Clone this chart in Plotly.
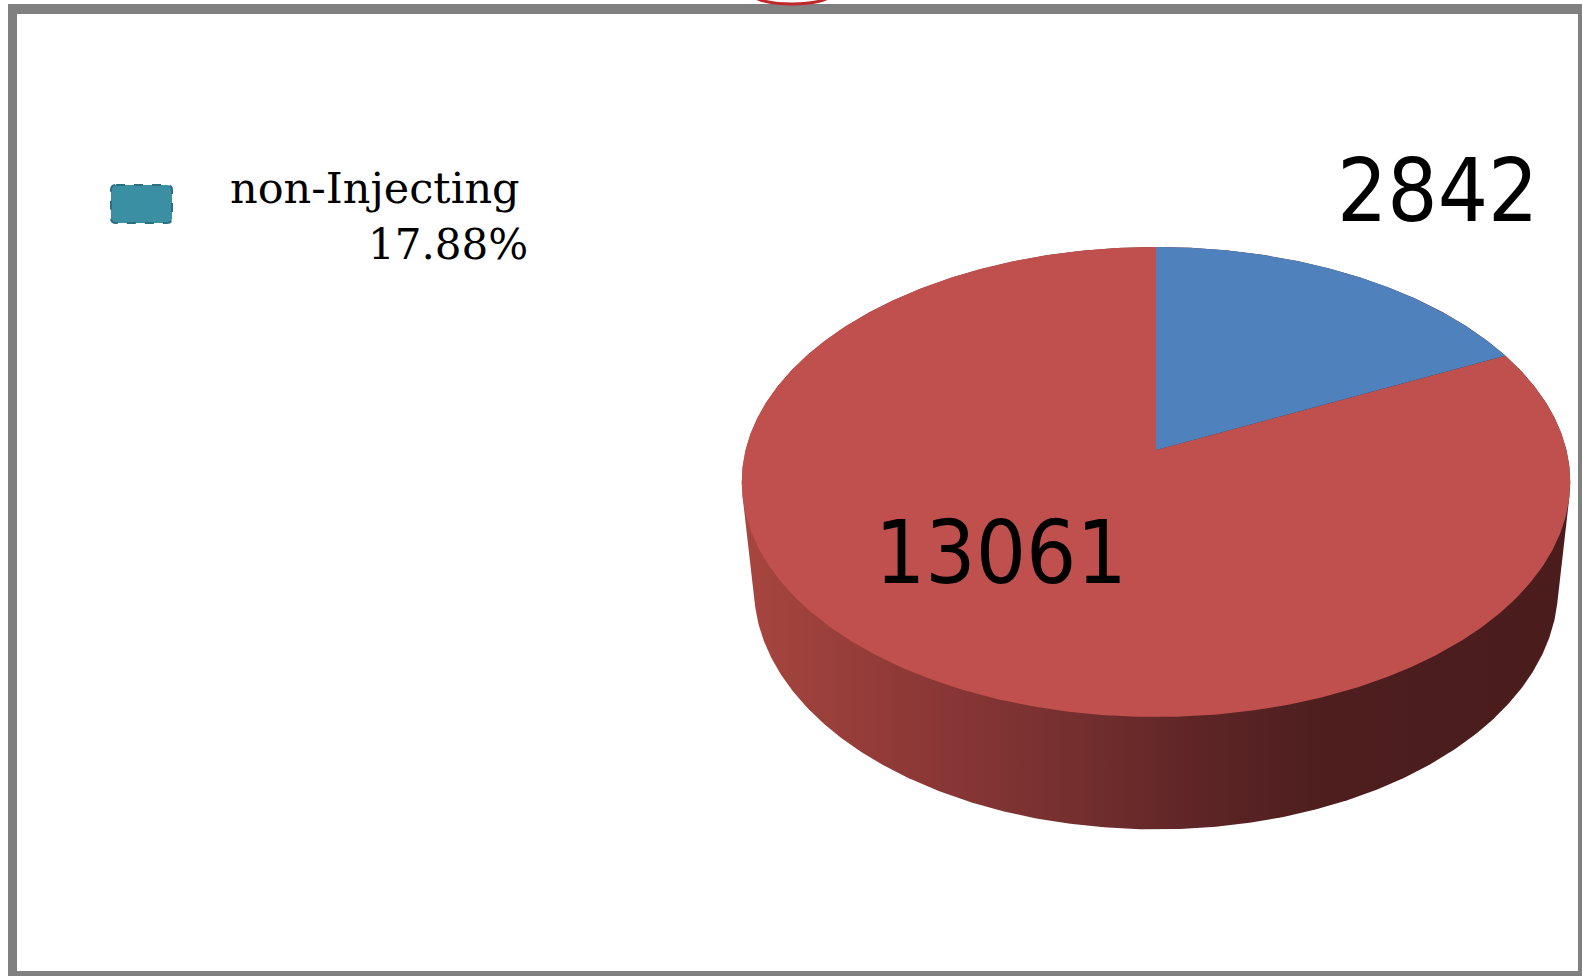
import numpy as np
import plotly.graph_objects as go

# ---- data ----
categories = ["non-Injecting", "Injecting"]
counts = [2842, 13061]
legend_label = "non-Injecting"
legend_share = "17.88%"

# ---- canvas (pixel coordinates, y grows downward) ----
W, H = 1582, 976

# ---- 3-D pie camera ----
CX, CY = 1156.0, 450.0      # projected pie centre
FOCAL = 2495.0
DIST = 6.08
TILT = np.radians(34.2)
DEPTH = 0.319               # thickness of the pie, in radius units
S, C = np.sin(TILT), np.cos(TILT)

top_colors = ["#4F81BD", "#C0504D"]
side_scale = [[0.0, "#A8463F"], [0.2, "#8E3937"], [0.4, "#752F2F"],
              [0.55, "#5E2526"], [0.7, "#4E1E1F"], [1.0, "#4A1C1C"]]


def project(theta_deg, r, z):
    """Angle measured clockwise from 12 o'clock; z = 0 is the top face."""
    t = np.radians(theta_deg)
    u = r * np.sin(t)
    v = r * np.cos(t)
    w = DIST + v * C - z * S
    x = CX + FOCAL * u / w
    y = CY - FOCAL * (v * S + z * C) / w
    return x, y


def convex_hull(pts):
    pts = sorted(set(pts))

    def cross(o, a, b):
        return (a[0] - o[0]) * (b[1] - o[1]) - (a[1] - o[1]) * (b[0] - o[0])

    lower, upper = [], []
    for p in pts:
        while len(lower) >= 2 and cross(lower[-2], lower[-1], p) <= 0:
            lower.pop()
        lower.append(p)
    for p in reversed(pts):
        while len(upper) >= 2 and cross(upper[-2], upper[-1], p) <= 0:
            upper.pop()
        upper.append(p)
    return lower[:-1] + upper[:-1]


fig = go.Figure()

# side wall: hull of top and bottom rims
ang = np.linspace(0, 360, 721)
tx, ty = project(ang, 1.0, 0.0)
bx, by = project(ang, 1.0, -DEPTH)
hull = convex_hull([(round(float(a), 3), round(float(b), 3))
                    for a, b in zip(np.r_[tx, bx], np.r_[ty, by])])
hx = [p[0] for p in hull] + [hull[0][0]]
hy = [p[1] for p in hull] + [hull[0][1]]
fig.add_trace(go.Scatter(
    x=hx, y=hy, mode="lines", fill="toself", line=dict(width=0),
    fillgradient=dict(type="horizontal", colorscale=side_scale,
                      start=min(hx), stop=max(hx)),
    hoverinfo="skip", showlegend=False))

# top face wedges, clockwise from 12 o'clock
total = float(sum(counts))
start = 0.0
wedges = []
for name, val, col in zip(categories, counts, top_colors):
    sweep = 360.0 * val / total
    a = np.linspace(start, start + sweep, max(int(sweep * 2), 8))
    ax_, ay_ = project(a, 1.0, 0.0)
    px = np.r_[CX, ax_, CX]
    py = np.r_[CY, ay_, CY]
    wedges.append(go.Scatter(x=px, y=py, mode="lines", fill="toself",
                             fillcolor=col, line=dict(width=0),
                             name=name, hoverinfo="name", showlegend=False))
    start += sweep
# larger wedge first so the small one sits cleanly on top
for tr in reversed(wedges):
    fig.add_trace(tr)

# value labels
label_font = dict(family="DejaVu Sans Condensed, Liberation Sans Narrow, DejaVu Sans",
                  size=88, color="#000000")
label_pos = [(1437, 190), (1001, 552)]
for val, (lx, ly) in zip(counts, label_pos):
    fig.add_annotation(x=lx, y=ly, text=str(val), showarrow=False,
                       xanchor="center", yanchor="middle", font=label_font)

# legend entry
serif = dict(family="DejaVu Serif, Liberation Serif, serif", size=43, color="#000000")
fig.add_annotation(x=228, y=188, text=legend_label, showarrow=False,
                   xanchor="left", yanchor="middle", font=serif)
fig.add_annotation(x=530, y=244, text=legend_share,
                   showarrow=False, xanchor="right", yanchor="middle",
                   font=dict(serif, size=42))

x0, y0, x1, y1, r = 111, 185, 172, 223, 5
swatch = (f"M {x0+r},{y0} L {x1-r},{y0} Q {x1},{y0} {x1},{y0+r} "
          f"L {x1},{y1-r} Q {x1},{y1} {x1-r},{y1} L {x0+r},{y1} "
          f"Q {x0},{y1} {x0},{y1-r} L {x0},{y0+r} Q {x0},{y0} {x0+r},{y0} Z")
shapes = [
    dict(type="path", path=swatch, fillcolor="#3A8FA3",
         line=dict(color="#2B6F80", width=2, dash="dash")),
    # frame
    dict(type="rect", x0=8, x1=17, y0=4, y1=976, fillcolor="#808080", line_width=0),
    dict(type="rect", x0=8, x1=1582, y0=4, y1=14, fillcolor="#808080", line_width=0),
    dict(type="rect", x0=1578, x1=1582, y0=4, y1=976, fillcolor="#808080", line_width=0),
    dict(type="rect", x0=8, x1=1582, y0=971, y1=976, fillcolor="#808080", line_width=0),
    # circled mark at the top edge
    dict(type="circle", x0=754, x1=830, y0=-14, y1=4,
         line=dict(color="#C0282D", width=3), fillcolor="rgba(0,0,0,0)"),
]

fig.update_layout(
    width=W, height=H, margin=dict(l=0, r=0, t=0, b=0),
    paper_bgcolor="white", plot_bgcolor="white",
    xaxis=dict(range=[0, W], visible=False, fixedrange=True),
    yaxis=dict(range=[H, 0], visible=False, fixedrange=True),
    shapes=shapes, showlegend=False,
)

fig.write_html("out.html")
